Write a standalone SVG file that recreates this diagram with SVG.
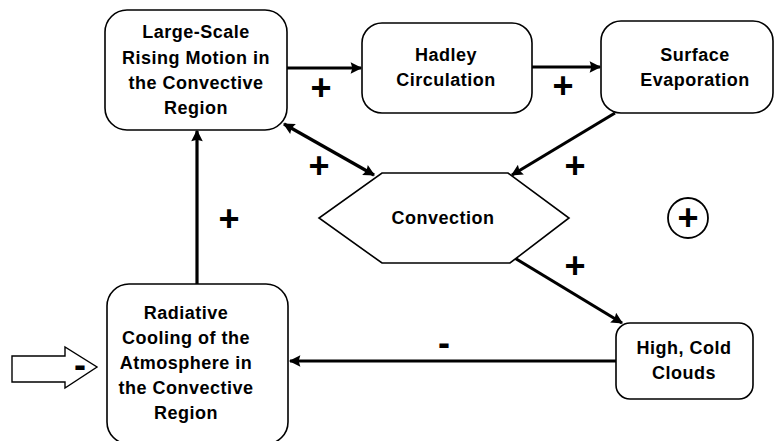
<svg xmlns="http://www.w3.org/2000/svg" width="774" height="441" viewBox="0 0 774 441">
<style>
.box{fill:#fff;stroke:#000;stroke-width:1.6}
.t{font-family:"Liberation Sans",Arial,sans-serif;font-weight:bold;font-size:18px;letter-spacing:0.5px;text-anchor:middle;fill:#000}
.sign{font-family:"Liberation Sans",Arial,sans-serif;font-weight:bold;font-size:36px;text-anchor:middle;fill:#000}
.ln{stroke:#000;stroke-width:3.2;fill:none}
</style>
<defs>
<marker id="ah" viewBox="0 0 10 10" refX="9" refY="5" markerWidth="4.5" markerHeight="3.6" orient="auto-start-reverse" markerUnits="strokeWidth">
<path d="M0,0 L10,5 L0,10 L1.5,5 z" fill="#000"/>
</marker>
</defs>
<rect width="774" height="441" fill="#fff"/>
<g id="connectors">
<line class="ln" x1="287" y1="68" x2="361" y2="68" marker-end="url(#ah)"/>
<line class="ln" x1="532" y1="67" x2="600" y2="67" marker-end="url(#ah)"/>
<line class="ln" x1="284" y1="124" x2="374" y2="175" marker-start="url(#ah)" marker-end="url(#ah)"/>
<line class="ln" x1="615" y1="113" x2="512" y2="175" marker-end="url(#ah)"/>
<line class="ln" x1="513" y1="257" x2="622" y2="323" marker-end="url(#ah)"/>
<line class="ln" x1="616" y1="361" x2="290" y2="361" marker-end="url(#ah)"/>
<line class="ln" x1="197" y1="284" x2="197" y2="131" marker-end="url(#ah)"/>
<path d="M12,356 L65,356 L65,347 L97,367 L65,388 L65,382 L12,382 Z" fill="#fff" stroke="#000" stroke-width="1.4"/>
<text class="sign" x="321" y="100">+</text>
<text class="sign" x="563" y="98">+</text>
<text class="sign" x="319" y="178">+</text>
<text class="sign" x="575" y="178">+</text>
<text class="sign" x="575" y="278">+</text>
<text class="sign" x="229" y="231">+</text>
<text class="sign" x="444" y="355" font-size="28">-</text>
<text class="sign" x="80" y="377" font-size="26">-</text>
</g>
<g id="n-rising">
<rect class="box" x="105" y="10" width="182" height="120" rx="22"/>
<text class="t" x="196" y="38">Large-Scale</text>
<text class="t" x="196" y="64">Rising Motion in</text>
<text class="t" x="196" y="89">the Convective</text>
<text class="t" x="196" y="114">Region</text>
</g>
<g id="n-hadley">
<rect class="box" x="362" y="23" width="170" height="90" rx="20"/>
<text class="t" x="446" y="61">Hadley</text>
<text class="t" x="446" y="86">Circulation</text>
</g>
<g id="n-evap">
<rect class="box" x="601" y="21" width="172" height="92" rx="20"/>
<text class="t" x="695" y="61">Surface</text>
<text class="t" x="695" y="86">Evaporation</text>
</g>
<g id="n-convection">
<polygon class="box" points="382,173 508,173 569,218 510,263 382,263 319,218" stroke-width="1.2"/>
<text class="t" x="443" y="224">Convection</text>
</g>
<g id="n-clouds">
<rect class="box" x="616" y="323" width="137" height="76" rx="14"/>
<text class="t" x="684" y="354">High, Cold</text>
<text class="t" x="684" y="379">Clouds</text>
</g>
<g id="n-cooling">
<rect class="box" x="107" y="284" width="181" height="160" rx="22"/>
<text class="t" x="186" y="319">Radiative</text>
<text class="t" x="186" y="344">Cooling of the</text>
<text class="t" x="186" y="369">Atmosphere in</text>
<text class="t" x="186" y="394">the Convective</text>
<text class="t" x="186" y="419">Region</text>
</g>
<g id="n-loop">
<circle cx="688" cy="218" r="20" fill="#fff" stroke="#000" stroke-width="1.8"/>
<text class="sign" x="688" y="230" font-size="36">+</text>
</g>
</svg>
